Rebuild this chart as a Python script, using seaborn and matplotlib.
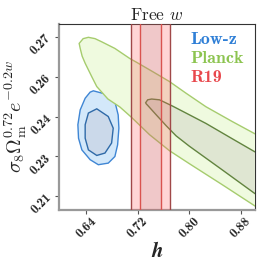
import numpy as np
import matplotlib
matplotlib.use("Agg")
import matplotlib.pyplot as plt
import seaborn as sns

# ---------------- data ----------------
# Low-z contours (h, S8 Omega_m^0.72 e^-0.2w), closed outlines
lowz_outer_h = [0.6512, 0.6743, 0.6846, 0.6897, 0.6908, 0.6888, 0.6846, 0.6743,
                0.6589, 0.6462, 0.6334, 0.6282, 0.6272, 0.6308, 0.6385, 0.6462]
lowz_outer_s = [0.2497, 0.2482, 0.2456, 0.2406, 0.2356, 0.2293, 0.2249, 0.2224,
                0.2218, 0.2237, 0.2274, 0.2318, 0.2369, 0.2425, 0.2469, 0.2492]
lowz_inner_h = [0.6565, 0.6743, 0.6820, 0.6795, 0.6692, 0.6565, 0.6435, 0.6385,
                0.6385, 0.6435]
lowz_inner_s = [0.2429, 0.2400, 0.2356, 0.2300, 0.2262, 0.2253, 0.2274, 0.2318,
                0.2369, 0.2413]

# Planck contours: upper and lower edges, both starting at the left tip
planck_outer_up_h = [0.6292, 0.6354, 0.6435, 0.6538, 0.6642, 0.6846, 0.7077, 0.7180,
                     0.7435, 0.7692, 0.7949, 0.8257, 0.8666, 0.9000, 0.9308]
planck_outer_up_s = [0.2676, 0.2694, 0.2699, 0.2694, 0.2682, 0.2657, 0.2619, 0.2605,
                     0.2569, 0.2532, 0.2488, 0.2437, 0.2381, 0.2337, 0.2297]
planck_outer_lo_h = [0.6292, 0.6308, 0.6338, 0.6385, 0.6488, 0.6565, 0.6738, 0.6923,
                     0.7103, 0.7385, 0.7692, 0.8000, 0.8508, 0.9000, 0.9308]
planck_outer_lo_s = [0.2676, 0.2657, 0.2628, 0.2601, 0.2550, 0.2513, 0.2466, 0.2436,
                     0.2397, 0.2331, 0.2271, 0.2222, 0.2143, 0.2065, 0.2018]
planck_inner_up_h = [0.7323, 0.7354, 0.7415, 0.7538, 0.7743, 0.7949, 0.8257, 0.8666,
                     0.9000, 0.9308]
planck_inner_up_s = [0.2452, 0.2463, 0.2466, 0.2463, 0.2439, 0.2413, 0.2374, 0.2316,
                     0.2269, 0.2229]
planck_inner_lo_h = [0.7323, 0.7331, 0.7362, 0.7488, 0.7642, 0.7795, 0.8000, 0.8508,
                     0.9000, 0.9308]
planck_inner_lo_s = [0.2452, 0.2448, 0.2440, 0.2406, 0.2365, 0.2327, 0.2288, 0.2199,
                     0.2112, 0.2060]

# R19 H0 prior: centre and 1/2 sigma
r19_h = 0.7397
r19_sig = [0.0158, 0.0300]

xticks = [0.64, 0.72, 0.80, 0.88]
xtick_labels = ["0.64", "0.72", "0.80", "0.88"]
yticks = [0.21, 0.225, 0.24, 0.255, 0.27]
ytick_labels = ["0.21", "0.23", "0.24", "0.26", "0.27"]

labels = ["Low-z", "Planck", "R19"]
label_colors = ["#2f7fd6", "#8cc450", "#e8474c"]

# ---------------- style ----------------
sns.set_style("ticks")
plt.rcParams["font.family"] = ["cmr10", "DejaVu Serif"]
plt.rcParams["mathtext.fontset"] = "cm"
plt.rcParams["axes.unicode_minus"] = False

fig = plt.figure(figsize=(2.66, 2.66), dpi=100)
ax = fig.add_axes([0.222, 0.2105, 0.737, 0.699])

# Low-z
ax.fill(lowz_outer_h, lowz_outer_s, facecolor="#d3e8fa", edgecolor="#3f86d4", lw=1.0, zorder=2)
ax.fill(lowz_inner_h, lowz_inner_s, facecolor="#cbd9ea", edgecolor="#2f6aa8", lw=1.0, zorder=3)

# Planck
po_h = planck_outer_up_h + planck_outer_lo_h[::-1]
po_s = planck_outer_up_s + planck_outer_lo_s[::-1]
pi_h = planck_inner_up_h + planck_inner_lo_h[::-1]
pi_s = planck_inner_up_s + planck_inner_lo_s[::-1]
ax.fill(po_h, po_s, facecolor="#effadf", edgecolor="#a6cc6e", lw=1.0, zorder=4)
ax.fill(pi_h, pi_s, facecolor="#dfe6d2", edgecolor="#62843f", lw=1.0, zorder=5)

# R19 bands
ax.axvspan(r19_h - r19_sig[1], r19_h + r19_sig[1], facecolor="#ff5a5a", alpha=0.25,
           edgecolor="none", zorder=6)
ax.axvspan(r19_h - r19_sig[0], r19_h + r19_sig[0], facecolor="#8a7075", alpha=0.12,
           edgecolor="none", zorder=7)
for k, c in zip(r19_sig, ["#d9534f", "#a04848"]):
    ax.axvline(r19_h - k, color=c, lw=1.0, zorder=8)
    ax.axvline(r19_h + k, color=c, lw=1.0, zorder=8)

ax.set_xlim(0.598, 0.902)
ax.set_ylim(0.2047, 0.2749)

ax.set_xticks(xticks)
ax.set_xticklabels(xtick_labels, rotation=45, fontfamily="cmb10", fontsize=9.5)
ax.set_yticks(yticks)
ax.set_yticklabels(ytick_labels, rotation=45, fontfamily="cmb10", fontsize=9.5)
ax.tick_params(length=3, width=0.8, color="#555555", pad=1)

for side in ["left", "bottom"]:
    ax.spines[side].set_color("#999999")
    ax.spines[side].set_linewidth(1.6)
for side in ["top", "right"]:
    ax.spines[side].set_visible(True)
    ax.spines[side].set_color("#333333")
    ax.spines[side].set_linewidth(0.8)

ax.set_title(r"Free $w$", fontsize=12.5, pad=3)
ax.set_xlabel(r"$\mathbfit{h}$", fontsize=15, labelpad=0)
ax.set_ylabel(r"$\sigma_8\Omega_{\rm m}^{0.72}e^{-0.2w}$", fontsize=14.5, labelpad=0)

for i, (lab, col) in enumerate(zip(labels, label_colors)):
    ax.text(0.668, 0.915 - i * 0.1, lab, color=col, fontfamily="cmb10", fontsize=13,
            transform=ax.transAxes, va="center", ha="left", zorder=10)

fig.savefig("out.png", dpi=100)
